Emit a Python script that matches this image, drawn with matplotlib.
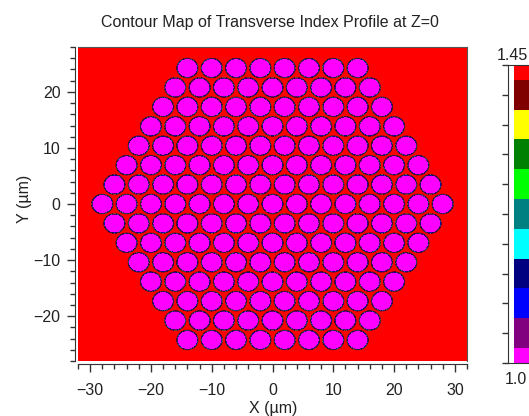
# contour map of the transverse index profile (hexagonal hole lattice)

import numpy as np
import matplotlib.pyplot as plt
from matplotlib.colors import ListedColormap, BoundaryNorm
from matplotlib.ticker import MultipleLocator

plt.rcParams['font.family'] = ['Liberation Sans', 'DejaVu Sans']

# index values on the colour bar, bottom to top, and their colours
index_values = [1.0, 1.045, 1.09, 1.135, 1.18, 1.225, 1.27, 1.315, 1.36, 1.405, 1.45]
band_colors = ['#ff00ff', '#800080', '#0000ff', '#000080', '#00ffff', '#008080',
               '#00ff00', '#008000', '#ffff00', '#800000', '#ff0000']

# fibre structure (um)
n_clad = 1.45
n_hole = 1.0
pitch = 4.0
hole_diameter = 3.6
rings = 7
edge_width = 0.22

x_ticks = [-30, -20, -10, 0, 10, 20, 30]
y_ticks = [-20, -10, 0, 10, 20]

x = np.linspace(-32, 32, 641)
y = np.linspace(-28, 28, 561)
X, Y = np.meshgrid(x, y)

# distance to the nearest hole centre
dist = np.full(X.shape, np.inf)
for row in range(-rings, rings + 1):
    n_in_row = 2 * rings + 1 - abs(row)
    yc = row * pitch * np.sqrt(3) / 2
    for k in range(n_in_row):
        xc = (k - (n_in_row - 1) / 2) * pitch
        dist = np.minimum(dist, np.hypot(X - xc, Y - yc))

frac = np.clip((dist - hole_diameter / 2) / edge_width + 0.5, 0, 1)
index = n_hole + (n_clad - n_hole) * frac

vals = np.array(index_values)
step = vals[1] - vals[0]
bounds = np.concatenate([vals - step / 2, [vals[-1] + step / 2]])
cmap = ListedColormap(band_colors)
norm = BoundaryNorm(bounds, cmap.N)

fig = plt.figure(figsize=(5.29, 4.16), dpi=100)
ax = fig.add_axes([78 / 529, 55 / 416, 389 / 529, 314 / 416])

ax.contourf(X, Y, index, levels=bounds, colors=band_colors)
ax.contour(X, Y, index, levels=[1.1], colors='#3a0a3a', linewidths=0.7)
ax.set_xlim(-32, 32)
ax.set_ylim(-28, 28)
ax.set_xticks(x_ticks)
ax.set_yticks(y_ticks)
ax.xaxis.set_minor_locator(MultipleLocator(2))
ax.yaxis.set_minor_locator(MultipleLocator(2))
ax.tick_params(which='major', direction='out', length=6, width=1, labelsize=11.5,
               colors='#333333', labelcolor='#222222')
ax.tick_params(which='minor', direction='out', length=3.5, width=1, colors='#333333')
ax.tick_params(axis='x', which='major', pad=7)
ax.tick_params(axis='y', which='major', pad=4)
for side in ['left', 'bottom']:
    ax.spines[side].set_position(('outward', 2.5))
    ax.spines[side].set_color('#333333')
for side in ['top', 'right']:
    ax.spines[side].set_color('#555555')

fig.text(270 / 529, 1 - 22 / 416, 'Contour Map of Transverse Index Profile at Z=0',
         ha='center', va='center', fontsize=11.5, color='#222222')
fig.text(273 / 529, 1 - 409 / 416, 'X (µm)', ha='center', va='center',
         fontsize=11.5, color='#222222')
fig.text(25 / 529, 1 - 199 / 416, 'Y (µm)', ha='center', va='center',
         rotation=90, fontsize=11.5, color='#222222')

# colour bar (runs past the right edge, as in the original)
cax = fig.add_axes([508 / 529, 53 / 416, 30 / 529, 298 / 416])
cax.pcolormesh([0.2, 1.0], bounds, vals[:, None], cmap=cmap, norm=norm)
cax.set_xlim(0, 1)
cax.set_ylim(index_values[0], index_values[-1])
cax.set_xticks([])
cax.set_yticks(index_values)
cax.set_yticklabels([])
cax.tick_params(axis='y', left=True, right=False, direction='out', length=4,
                width=1, colors='#333333')
cax.spines['right'].set_visible(False)
for side in ['left', 'top', 'bottom']:
    cax.spines[side].set_color('#333333')
fig.text(512 / 529, 1 - 55 / 416, '1.45', ha='center', va='center',
         fontsize=11.5, color='#222222')
fig.text(516 / 529, 1 - 379 / 416, '1.0', ha='center', va='center',
         fontsize=11.5, color='#222222')

fig.savefig('out.png', dpi=100)
